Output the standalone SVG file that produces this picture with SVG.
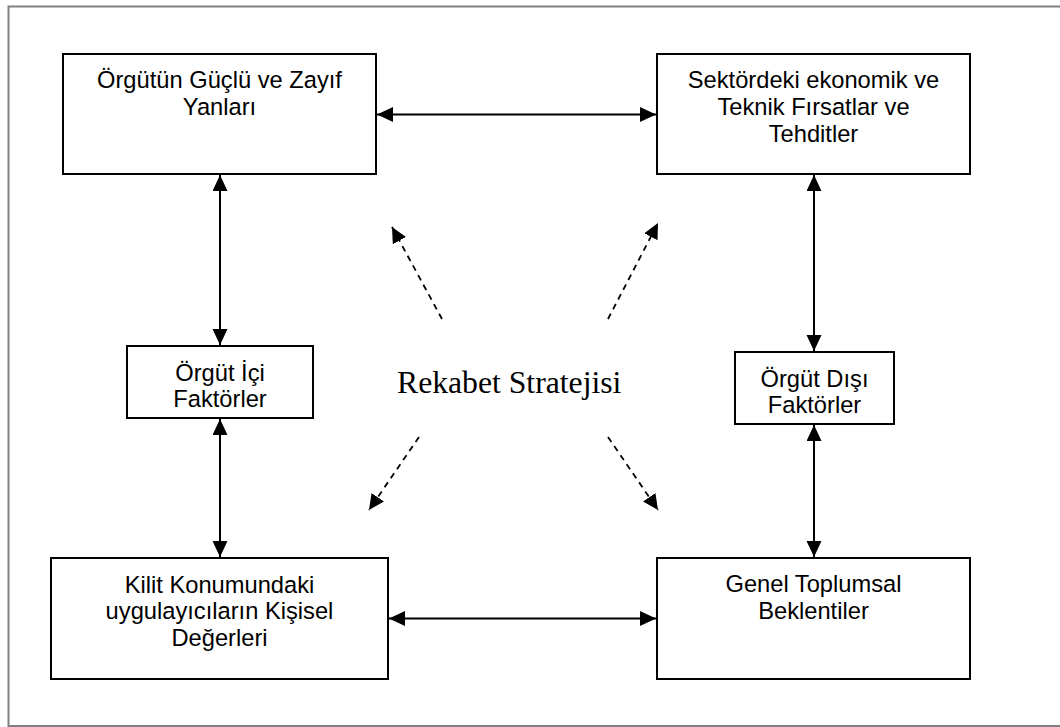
<svg xmlns="http://www.w3.org/2000/svg" width="1060" height="727" viewBox="0 0 1060 727">
  <style>
    .box { fill: #ffffff; stroke: #000000; stroke-width: 2; }
    .lbl { font-family: "Liberation Sans", Arial, sans-serif; font-size: 23.7px; fill: #000000; text-anchor: middle; }
    .title { font-family: "Liberation Serif", "Times New Roman", serif; font-size: 31.7px; fill: #000000; }
    .solid { stroke: #000000; stroke-width: 2; fill: none; marker-start: url(#ah); marker-end: url(#ah); }
    .dash { stroke: #000000; stroke-width: 1.8; fill: none; stroke-dasharray: 6 5; marker-end: url(#ah2); }
    .frame { stroke: #808080; stroke-width: 2; fill: none; }
  </style>
  <defs>
    <marker id="ah" markerUnits="userSpaceOnUse" markerWidth="17" markerHeight="16" refX="16" refY="7.5" orient="auto-start-reverse">
      <path d="M0,0 L16,7.5 L0,15 z" fill="#000000"/>
    </marker>
    <marker id="ah2" markerUnits="userSpaceOnUse" markerWidth="17" markerHeight="16" refX="15.5" refY="7.5" orient="auto">
      <path d="M0,0 L15.5,7.5 L0,15 z" fill="#000000"/>
    </marker>
  </defs>
  <rect x="0" y="0" width="1060" height="727" fill="#ffffff"/>
  <path class="frame" d="M1070,6.5 H8.5 V726 H1070"/>

  <g id="connectors">
    <line class="solid" x1="377" y1="114.5" x2="656" y2="114.5"/>
    <line class="solid" x1="389" y1="618.5" x2="656" y2="618.5"/>
    <line class="solid" x1="220" y1="175" x2="220" y2="345"/>
    <line class="solid" x1="220" y1="419" x2="220" y2="557"/>
    <line class="solid" x1="814" y1="175" x2="814" y2="351"/>
    <line class="solid" x1="814" y1="425" x2="814" y2="557"/>
    <line class="dash" x1="442" y1="319" x2="392" y2="227"/>
    <line class="dash" x1="608" y1="319" x2="658" y2="223"/>
    <line class="dash" x1="419" y1="437" x2="369" y2="510"/>
    <line class="dash" x1="608" y1="437" x2="658" y2="510"/>
  </g>

  <g id="n-guclu">
    <rect class="box" x="63" y="54" width="313" height="120"/>
    <text class="lbl" x="219.5" y="88">Örgütün Güçlü ve Zayıf</text>
    <text class="lbl" x="219.5" y="115">Yanları</text>
  </g>
  <g id="n-sektor">
    <rect class="box" x="657" y="54" width="313" height="120"/>
    <text class="lbl" x="813.5" y="88">Sektördeki ekonomik ve</text>
    <text class="lbl" x="813.5" y="115">Teknik Fırsatlar ve</text>
    <text class="lbl" x="813.5" y="142">Tehditler</text>
  </g>
  <g id="n-ici">
    <rect class="box" x="127" y="346" width="186" height="72"/>
    <text class="lbl" x="220" y="381">Örgüt İçi</text>
    <text class="lbl" x="220" y="407">Faktörler</text>
  </g>
  <g id="n-disi">
    <rect class="box" x="735" y="352" width="159" height="72"/>
    <text class="lbl" x="814.5" y="387">Örgüt Dışı</text>
    <text class="lbl" x="814.5" y="413">Faktörler</text>
  </g>
  <g id="n-kilit">
    <rect class="box" x="51" y="558" width="337" height="121"/>
    <text class="lbl" x="219.5" y="592.5">Kilit Konumundaki</text>
    <text class="lbl" x="219.5" y="619">uygulayıcıların Kişisel</text>
    <text class="lbl" x="219.5" y="646">Değerleri</text>
  </g>
  <g id="n-genel">
    <rect class="box" x="657" y="558" width="313" height="121"/>
    <text class="lbl" x="813.5" y="592">Genel Toplumsal</text>
    <text class="lbl" x="813.5" y="618.5">Beklentiler</text>
  </g>
  <g id="n-rekabet">
    <text class="title" x="397" y="393">Rekabet Stratejisi</text>
  </g>
</svg>
